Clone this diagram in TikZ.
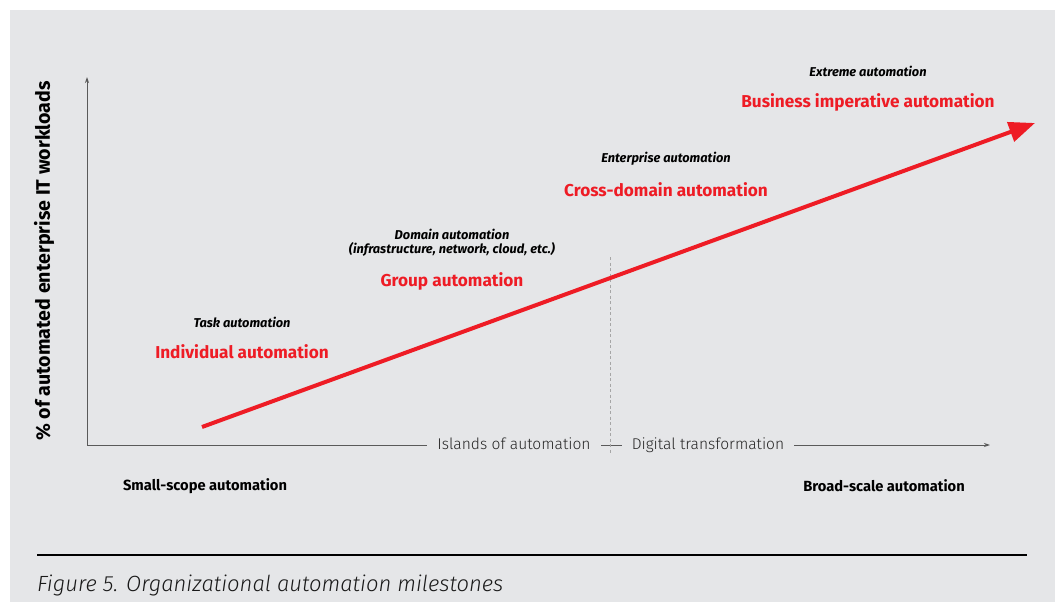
\documentclass[tikz,border=0pt]{standalone}
\usepackage{fontspec}
\setmainfont{Fira Sans}
\newfontfamily\lightfont{Fira Sans Light}
\usetikzlibrary{arrows.meta,positioning}

\definecolor{panel}{HTML}{E5E6E8}
\definecolor{rhred}{HTML}{EE1C25}
\definecolor{axisgray}{HTML}{5A5A5A}

\tikzset{
  level/.style={font=\fontsize{12.8}{14.5}\selectfont\bfseries\itshape, align=center, inner sep=0pt},
  milestone/.style={font=\fontsize{17.2}{19}\selectfont\bfseries, text=rhred, inner sep=0pt},
  phase/.style={font=\lightfont\fontsize{15.6}{17}\selectfont, text=black!85, fill=panel,
    inner xsep=10pt, inner ysep=2pt, text height=11pt, text depth=3pt},
  scope/.style={font=\fontsize{14.7}{16}\selectfont\bfseries, inner sep=0pt}
}

\begin{document}
\begin{tikzpicture}[x=1pt, y=-1pt]
      \useasboundingbox (0,0) rectangle (1063,602);
      \fill[white] (0,0) rectangle (1063,602);
      \fill[panel] (10,10) rectangle (1055,602);

      % Axes
      \coordinate (origin) at (87,445);
      \coordinate (ytop) at (87,77);
      \coordinate (xend) at (990,445);
      \draw[axisgray, line width=0.9pt, -{Stealth[length=6pt,width=4pt]}] (origin) -- (ytop);
      \draw[axisgray, line width=0.9pt, -{Stealth[length=6pt,width=4pt]}] (origin) -- (xend);

      \node[rotate=90, font=\fontsize{19.6}{21}\selectfont\bfseries] (ylabel) at (44,261)
        {\% of automated enterprise IT workloads};

      % Phases
      \coordinate (split top) at (610,257);
      \coordinate (split bottom) at (610,453);
      \draw[black!35, line width=0.8pt, dash pattern=on 3pt off 2.5pt] (split top) -- (split bottom);
      \node[phase] (islands) at (514,445) {Islands of automation};
      \node[phase] (digital) at (708,445) {Digital transformation};

      \node[scope] (small) at (205,486) {Small-scope automation};
      \node[scope] (broad) at (884,486) {Broad-scale automation};

      % Growth
      \coordinate (start) at (202,427);
      \coordinate (tip) at (1035,123);
      \draw[rhred, line width=4pt, -{Triangle[length=26pt,width=20pt]}] (start) -- (tip);

      % Milestones
      \node[milestone] (individual) at (242,352) {Individual automation};
      \node[level] (task) at (242,322) {Task automation};

      \node[milestone] (group) at (452,281) {Group automation};
      \node[level] (domain) at (452,242.5) {Domain automation\\(infrastructure, network, cloud, etc.)};

      \node[milestone] (cross) at (666,190) {Cross-domain automation};
      \node[level] (enterprise) at (666,159) {Enterprise automation};

      \node[milestone] (business) at (868,102) {Business imperative automation};
      \node[level] (extreme) at (868,71) {Extreme automation};

      % Caption
      \coordinate (rule left) at (37,555);
      \coordinate (rule right) at (1027,555);
      \draw[black, line width=1.2pt] (rule left) -- (rule right);
      \node[anchor=west, font=\lightfont\itshape\fontsize{22}{24}\selectfont, text=black!90, inner sep=0pt] (caption) at (37,585)
        {Figure 5. Organizational automation milestones};
    \end{tikzpicture}
\end{document}
